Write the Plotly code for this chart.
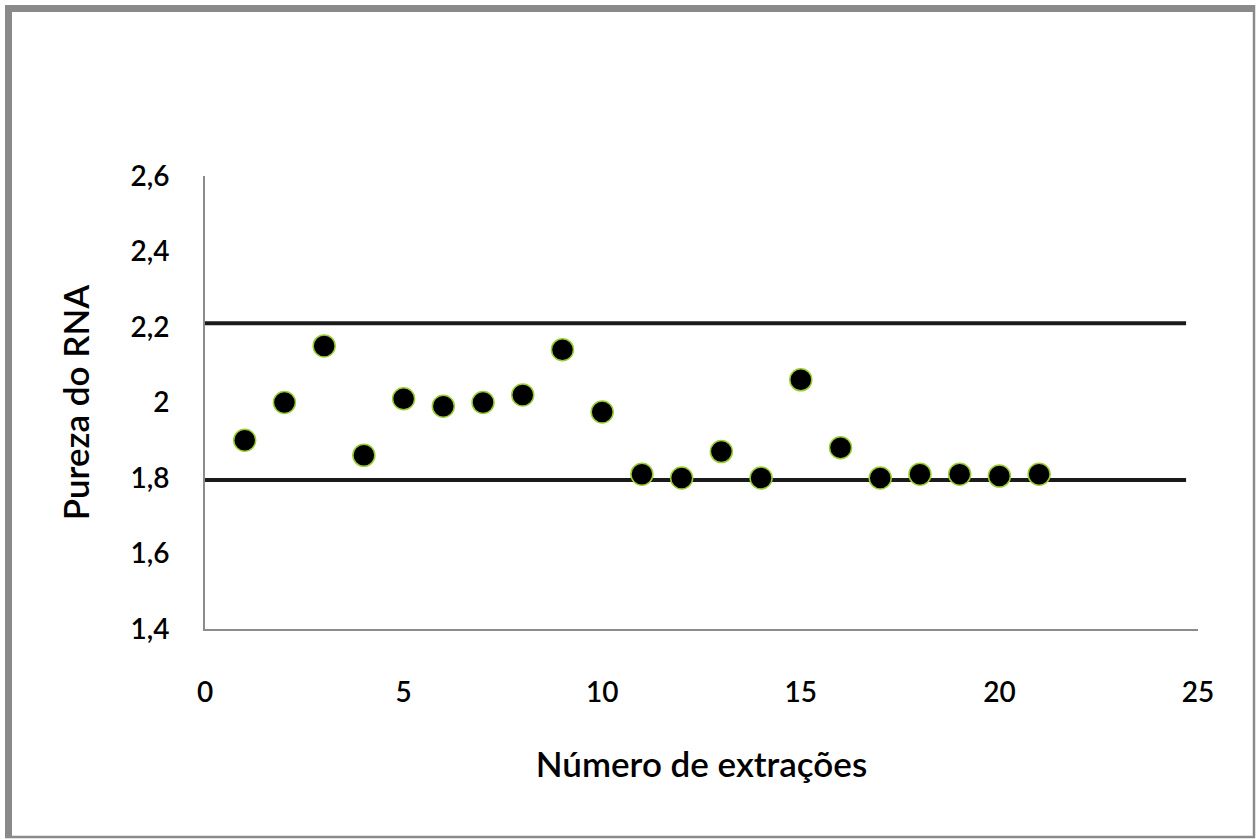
import plotly.graph_objects as go

extracoes = list(range(1, 22))
pureza = [1.90, 2.00, 2.15, 1.86, 2.01, 1.99, 2.00, 2.02, 2.14, 1.975,
          1.81, 1.80, 1.87, 1.80, 2.06, 1.88, 1.80, 1.81, 1.81, 1.805, 1.81]
limite_x = [0, 24.7]
limite_sup = [2.21, 2.21]
limite_inf = [1.795, 1.795]
y_ticks = [1.4, 1.6, 1.8, 2.0, 2.2, 2.4, 2.6]
x_ticks = [0, 5, 10, 15, 20, 25]

W, H = 1257, 839
L, R, T, B = 205, 59, 176, 210
pw, ph = W - L - R, H - T - B

def px(x):
    return (x - L) / pw

def py(y):
    return (H - B - y) / ph

fig = go.Figure()
for yy in (limite_sup, limite_inf):
    fig.add_trace(go.Scatter(x=limite_x, y=yy, mode="lines",
                             line=dict(color="#1a1a1a", width=4),
                             showlegend=False, hoverinfo="skip"))
fig.add_trace(go.Scatter(x=extracoes, y=pureza, mode="markers",
                         marker=dict(size=22, color="black",
                                     line=dict(color="#9acd32", width=1.5)),
                         showlegend=False))

font_tick = dict(family="Lato", size=28, color="#000", weight=600)
font_title = dict(family="Lato", size=35, color="#000", weight=600)

fig.update_layout(
    width=W, height=H,
    margin=dict(l=L, r=R, t=T, b=B, autoexpand=False),
    paper_bgcolor="white", plot_bgcolor="white",
    separators=",.",
    xaxis=dict(range=[0, 25], tickvals=x_ticks, showgrid=False, zeroline=False,
               showline=True, linecolor="#8c8c8c", linewidth=2,
               ticks="", tickfont=font_tick, ticklabelstandoff=37,
               title=dict(text="Número de extrações", font=font_title, standoff=46)),
    yaxis=dict(range=[1.4, 2.6], tickvals=y_ticks, showgrid=False, zeroline=False,
               showline=True, linecolor="#8c8c8c", linewidth=2,
               ticks="", tickfont=font_tick, ticklabelstandoff=28,
               title=dict(text="Pureza do RNA", font=font_title, standoff=30)),
)

gray = "#8a8a8a"
fig.add_shape(type="line", xref="paper", yref="paper",
              x0=px(5), x1=px(1255), y0=py(8.5), y1=py(8.5),
              line=dict(color=gray, width=7))
fig.add_shape(type="line", xref="paper", yref="paper",
              x0=px(8.5), x1=px(8.5), y0=py(5), y1=py(838),
              line=dict(color=gray, width=7))
fig.add_shape(type="line", xref="paper", yref="paper",
              x0=px(1254), x1=px(1254), y0=py(5), y1=py(838),
              line=dict(color=gray, width=2.5))
fig.add_shape(type="line", xref="paper", yref="paper",
              x0=px(5), x1=px(1255), y0=py(837), y1=py(837),
              line=dict(color=gray, width=2.5))

fig.write_html("out.html", config={"displayModeBar": False},
               post_script="document.body.style.margin='0px';")
